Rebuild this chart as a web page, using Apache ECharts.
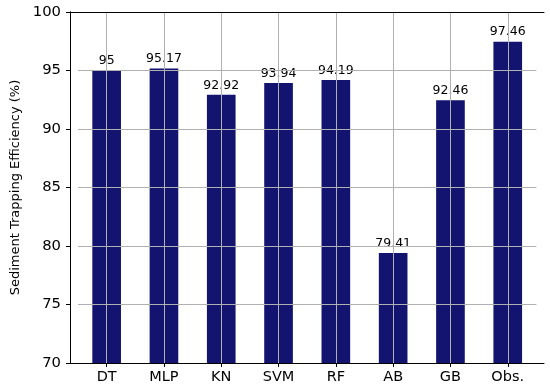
<!DOCTYPE html>
<html><head><meta charset="utf-8">
<script src="https://cdn.jsdelivr.net/npm/echarts@6/dist/echarts.min.js"></script>
<style>html,body{margin:0;padding:0;background:#fff}#c{width:550px;height:391px}</style>
</head><body><div id="c"></div>
<script>
const categories = ['DT','MLP','KN','SVM','RF','AB','GB','Obs.'];
const efficiency = [95, 95.17, 92.92, 93.94, 94.19, 79.41, 92.46, 97.46];
const yTicks = [70, 75, 80, 85, 90, 95, 100];

const FONT = 'DejaVu Sans';
const chart = echarts.init(document.getElementById('c'), null, {renderer:'canvas'});
const yMin = yTicks[0], yMax = yTicks[yTicks.length-1], yStep = yTicks[1]-yTicks[0];
chart.setOption({
  animation: false,
  grid: [
    {left: 78, width: 458.4, top: 12, bottom: 28},
    {left: 70, right: 6, top: 12, bottom: 28}
  ],
  xAxis: [
    {type:'category', data: categories, gridIndex:0, position:'bottom',
     axisLine:{show:false},
     axisTick:{show:true, alignWithLabel:true, length:4, lineStyle:{color:'#000', width:1}},
     axisLabel:{fontFamily:FONT, fontSize:14.5, color:'#000', margin:7},
     splitLine:{show:false}},
    {type:'category', data: categories, gridIndex:0, position:'top', z:5,
     axisLine:{show:false}, axisTick:{show:false}, axisLabel:{show:false},
     splitLine:{show:true, alignWithLabel:true, lineStyle:{color:'#b0b0b0', width:1}}},
    {type:'value', gridIndex:1, min:0, max:1, position:'bottom', z:10,
     axisLine:{show:true, lineStyle:{color:'#000', width:1}}, axisTick:{show:false}, axisLabel:{show:false}, splitLine:{show:false}},
    {type:'value', gridIndex:1, min:0, max:1, position:'top', z:10,
     axisLine:{show:true, lineStyle:{color:'#000', width:1}}, axisTick:{show:false}, axisLabel:{show:false}, splitLine:{show:false}}
  ],
  yAxis: [
    {type:'value', gridIndex:0, min:yMin, max:yMax, interval:yStep, position:'left',
     axisLine:{show:false}, axisTick:{show:false}, axisLabel:{show:false}, splitLine:{show:false}},
    {type:'value', gridIndex:0, min:yMin, max:yMax, interval:yStep, position:'right', z:5,
     axisLine:{show:false}, axisTick:{show:false}, axisLabel:{show:false},
     splitLine:{show:true, lineStyle:{color:'#b0b0b0', width:1}}},
    {type:'value', gridIndex:1, min:yMin, max:yMax, interval:yStep, position:'left', z:10,
     name:'Sediment Trapping Efficiency (%)', nameLocation:'middle', nameGap:48, nameRotate:90,
     nameTextStyle:{fontFamily:FONT, fontSize:13, color:'#000'},
     axisLine:{show:true, lineStyle:{color:'#000', width:1}},
     axisTick:{show:true, length:4, lineStyle:{color:'#000', width:1}},
     axisLabel:{fontFamily:FONT, fontSize:14.8, color:'#000', margin:9},
     splitLine:{show:false}},
    {type:'value', gridIndex:1, min:yMin, max:yMax, interval:yStep, position:'right', z:10,
     axisLine:{show:true, lineStyle:{color:'#000', width:1}}, axisTick:{show:false}, axisLabel:{show:false}, splitLine:{show:false}}
  ],
  series: [{
    type:'bar', xAxisIndex:0, yAxisIndex:0, data: efficiency, barWidth:'50%',
    itemStyle:{color:'#131370'},
    label:{show:true, position:'top', distance:3, fontFamily:FONT, fontSize:12.5, color:'#000'}
  }]
});
</script></body></html>
